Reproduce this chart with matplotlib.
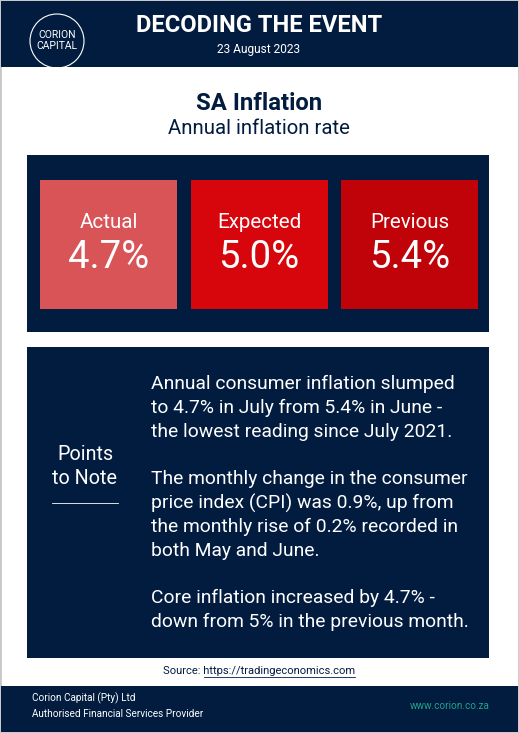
import matplotlib.pyplot as plt
from matplotlib.patches import Rectangle, Circle

plt.rcParams['font.family'] = ['Roboto', 'DejaVu Sans']

# data
labels = ['Actual', 'Expected', 'Previous']
values = [4.7, 5.0, 5.4]
box_colors = ['#d95457', '#d7060d', '#bf0308']
notes = [
    'Annual consumer inflation slumped',
    'to 4.7% in July from 5.4% in June -',
    'the lowest reading since July 2021.',
    '',
    'The monthly change in the consumer',
    'price index (CPI) was 0.9%, up from',
    'the monthly rise of 0.2% recorded in',
    'both May and June.',
    '',
    'Core inflation increased by 4.7% -',
    'down from 5% in the previous month.',
]

navy = '#021c40'
W, H = 519, 733
fig = plt.figure(figsize=(W / 100, H / 100), dpi=100)
ax = fig.add_axes([0, 0, 1, 1])
ax.set_xlim(0, W)
ax.set_ylim(H, 0)
ax.axis('off')

ax.add_patch(Rectangle((0, 0), W, H, fc='white', ec='#c8c8c8', lw=2))

# header
ax.add_patch(Rectangle((1, 1), W - 2, 66, fc=navy, ec='none'))
ax.add_patch(Circle((57, 41), 27, fc='none', ec='white', lw=0.8))
ax.text(57, 35, 'CORION', color='white', fontsize=7.5, ha='center', va='center')
ax.text(57, 46, 'CAPITAL', color='white', fontsize=7.5, ha='center', va='center')
ax.text(259, 25, 'DECODING THE EVENT', color='white', fontsize=17.1, fontweight='bold', ha='center', va='center')
ax.text(259, 49, '23 August 2023', color='white', fontsize=8.6, ha='center', va='center')

# title
ax.text(259, 103, 'SA Inflation', color=navy, fontsize=17.2, fontweight='bold', ha='center', va='center')
ax.text(259, 128, 'Annual inflation rate', color=navy, fontsize=14.7, ha='center', va='center')

# boxes panel
ax.add_patch(Rectangle((27, 155), 462, 177, fc=navy, ec='none'))
for i, (lab, val, col) in enumerate(zip(labels, values, box_colors)):
    x0 = 40 + i * 150.5
    ax.add_patch(Rectangle((x0, 180), 137, 129, fc=col, ec='none'))
    ax.text(x0 + 68.5, 222, lab, color='white', fontsize=14.8, ha='center', va='center')
    ax.text(x0 + 68.5, 258, f'{val:.1f}%', color='white', fontsize=27.5, ha='center', va='center')

# notes panel
ax.add_patch(Rectangle((27, 347), 462, 311, fc=navy, ec='none'))
ax.text(85, 455, 'Points', color='white', fontsize=14.2, ha='center', va='center')
ax.text(85, 479, 'to Note', color='white', fontsize=14.2, ha='center', va='center')
ax.plot([52, 118], [503, 503], color='white', lw=0.6)
for k, line in enumerate(notes):
    ax.text(151, 384 + k * 23.8, line, color='white', fontsize=13.9, ha='left', va='center')

# source
ax.text(259, 671, 'Source: https://tradingeconomics.com', color=navy, fontsize=8, ha='center', va='center')
ax.plot([204, 355], [677, 677], color=navy, lw=0.6)

# footer
ax.add_patch(Rectangle((1, 686), W - 2, 46, fc=navy, ec='none'))
ax.text(32, 698, 'Corion Capital (Pty) Ltd', color='white', fontsize=7.2, ha='left', va='center')
ax.text(32, 714, 'Authorised Financial Services Provider', color='white', fontsize=7.2, ha='left', va='center')
ax.text(490, 706, 'www.corion.co.za', color='#1fa38a', fontsize=7.2, ha='right', va='center')

fig.savefig('out.png', dpi=100)
